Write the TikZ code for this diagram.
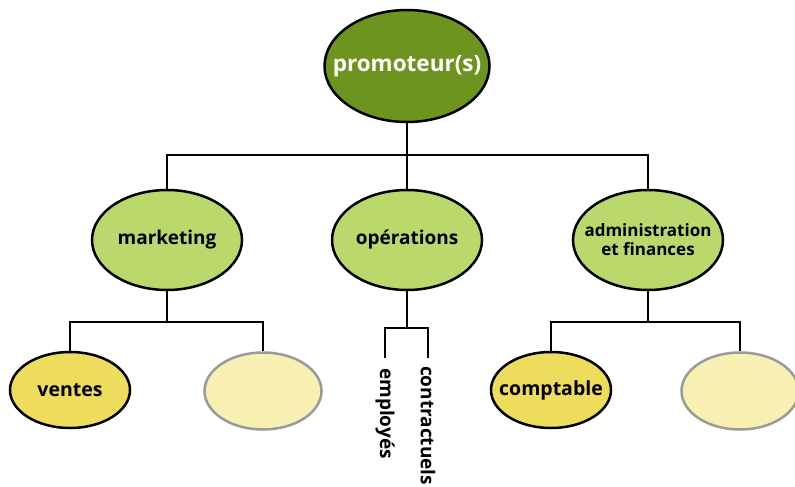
\documentclass[tikz,border=0pt]{standalone}
\usepackage{fontspec}
\setmainfont{Open Sans}
\usetikzlibrary{shapes.geometric}
\definecolor{topgreen}{HTML}{6E9420}
\definecolor{midgreen}{HTML}{BAD86C}
\definecolor{lowyellow}{HTML}{EEDC5C}
\definecolor{paleyellow}{HTML}{F8F0B2}
\definecolor{greyline}{HTML}{9A9A9A}
\tikzset{
  lvl0/.style={ellipse, draw=black, line width=2.5pt, fill=topgreen, inner sep=0pt,
    minimum width=165pt, minimum height=112pt},
  lvl1/.style={ellipse, draw=black, line width=2.5pt, fill=midgreen, inner sep=0pt,
    minimum width=150pt, minimum height=100pt},
  lvl2/.style={ellipse, draw=black, line width=2.5pt, fill=lowyellow, inner sep=0pt,
    minimum width=120pt, minimum height=76pt},
  blank/.style={ellipse, draw=greyline, line width=2.5pt, fill=paleyellow, inner sep=0pt,
    minimum width=117pt, minimum height=77pt},
  txt0/.style={text=white, align=center, font=\bfseries\fontsize{22.5}{25}\selectfont},
  txt1/.style={align=center, font=\bfseries\fontsize{19}{21}\selectfont},
  txt1s/.style={align=center, font=\bfseries\fontsize{17}{19}\selectfont},
  txt2/.style={align=center, font=\bfseries\fontsize{19.5}{22}\selectfont},
  conn/.style={line width=2.5pt, draw=black},
  vlabel/.style={rotate=-90, anchor=west, inner sep=0pt, font=\bfseries\fontsize{19}{21}\selectfont}
}
\begin{document}
\begin{tikzpicture}[x=1pt,y=-1pt]
\useasboundingbox (0,0) rectangle (795,487);
\node[lvl0] (prom) at (407,66) {};
\node[txt0] (promT) at (prom.center) {promoteur(s)};
\node[lvl1] (mkt) at (167,240) {};
\node[txt1] (mktT) at (mkt.center) {marketing};
\node[lvl1] (ops) at (407,240) {};
\node[txt1] (opsT) at (ops.center) {opérations};
\node[lvl1] (adm) at (648,240) {};
\node[txt1s] (admT) at (adm.center) {administration\\et finances};
\node[lvl2] (ventes) at (70,390) {};
\node[txt2] (ventesT) at (ventes.center) {ventes};
\node[blank] (b1) at (263,391) {};
\node[lvl2] (compt) at (551,390) {};
\node[txt2] (comptT) at (compt.center) {comptable};
\node[blank] (b2) at (740,391) {};
\node[vlabel] (emp) at (385,368) {employés};
\node[vlabel] (con) at (428,366) {contractuels};
% connectors
\coordinate (j0) at (407,155);
\draw[conn] (prom.south) -- (j0);
\draw[conn] (mkt.north) |- (j0) -| (adm.north);
\draw[conn] (ops.north) -- (j0);
\coordinate (j1) at (167,322);
\draw[conn] (mkt.south) -- (j1);
\draw[conn] (ventes.north) |- (j1) -| (b1.north);
\coordinate (j2) at (407,328);
\draw[conn] (ops.south) -- (j2);
\coordinate (e1) at (385,358);
\coordinate (e2) at (428,358);
\draw[conn] (e1) |- (j2) -| (e2);
\coordinate (j3) at (648,322);
\draw[conn] (adm.south) -- (j3);
\draw[conn] (compt.north) |- (j3) -| (b2.north);
\end{tikzpicture}
\end{document}
